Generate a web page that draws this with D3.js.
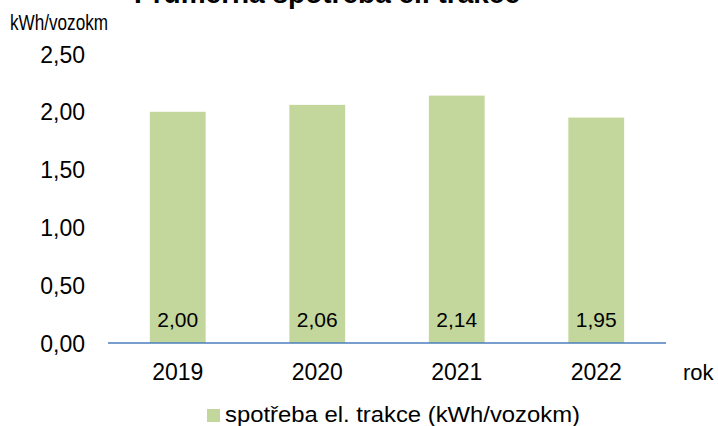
<!DOCTYPE html>
<html>
<head>
<meta charset="utf-8">
<script src="https://cdn.jsdelivr.net/npm/d3@7"></script>
<style>
  body { margin: 0; background: #fff; }
  text { font-family: "Liberation Sans", Arial, sans-serif; fill: #000; }
</style>
</head>
<body>
<div id="chart"></div>
<script>
	var years = ["2019", "2020", "2021", "2022"];
	var values = [2.00, 2.06, 2.14, 1.95];
	var yTicks = [0, 0.5, 1, 1.5, 2, 2.5];
	var seriesName = "spotřeba el. trakce (kWh/vozokm)";

	var width = 718, height = 426;
	var fmt = function(v){ return d3.format(".2f")(v).replace(".", ","); };

	var svg = d3.select("#chart").append("svg")
		.attr("width", width)
		.attr("height", height);

	var x = d3.scaleBand()
		.domain(years)
		.range([108, 666])
		.paddingInner(0.6)
		.paddingOuter(0.3);

	var y = d3.scaleLinear()
		.domain([0, 2.5])
		.range([343, 54]);

	// title (cut off at the top, like in the source picture)
	svg.append("text")
		.attr("x", 327)
		.attr("y", 3)
		.attr("text-anchor", "middle")
		.style("font-size", "28px")
		.style("font-weight", "bold")
		.text("Průměrná spotřeba el. trakce");

	svg.append("text")
		.attr("x", 10)
		.attr("y", 30)
		.attr("textLength", 98)
		.attr("lengthAdjust", "spacingAndGlyphs")
		.style("font-size", "22px")
		.text("kWh/vozokm");

	// bars
	svg.selectAll("rect.bar")
		.data(values)
		.enter()
		.append("rect")
		.attr("class", "bar")
		.attr("x", function(d, i){ return x(years[i]); })
		.attr("width", x.bandwidth())
		.attr("y", function(d){ return y(d); })
		.attr("height", function(d){ return y(0) - y(d); })
		.attr("fill", "#c3d69b");

	// value labels
	svg.selectAll("text.val")
		.data(values)
		.enter()
		.append("text")
		.attr("class", "val")
		.attr("x", function(d, i){ return x(years[i]) + x.bandwidth() / 2; })
		.attr("y", 327)
		.attr("text-anchor", "middle")
		.style("font-size", "21px")
		.text(function(d){ return fmt(d); });

	// y axis labels
	var yAxis = d3.axisLeft(y).tickValues(yTicks).tickFormat(fmt).tickSize(0).tickPadding(0);
	var gy = svg.append("g").attr("transform", "translate(85,0)").call(yAxis);
	gy.select(".domain").remove();
	gy.selectAll("text")
		.style("font-size", "23px")
		.style("font-family", "'Liberation Sans', Arial, sans-serif")
		.attr("dy", "0.35em");

	// x axis
	var xAxis = d3.axisBottom(x).tickSize(0).tickPadding(0);
	var gx = svg.append("g").attr("transform", "translate(0,343)").call(xAxis);
	gx.select(".domain").remove();
	gx.selectAll("text")
		.style("font-size", "23px")
		.style("font-family", "'Liberation Sans', Arial, sans-serif")
		.attr("dy", null)
		.attr("y", 37);

	svg.append("line")
		.attr("x1", 108).attr("x2", 666)
		.attr("y1", y(0)).attr("y2", y(0))
		.attr("stroke", "#4a7ebb")
		.attr("stroke-width", 1.5);

	svg.append("text")
		.attr("x", 683)
		.attr("y", 380)
		.style("font-size", "22px")
		.text("rok");

	// legend
	svg.append("rect")
		.attr("x", 207).attr("y", 409)
		.attr("width", 13).attr("height", 13)
		.attr("fill", "#c3d69b");

	svg.append("text")
		.attr("x", 225)
		.attr("y", 422)
		.attr("textLength", 355)
		.attr("lengthAdjust", "spacingAndGlyphs")
		.style("font-size", "22px")
		.text(seriesName);
</script>
</body>
</html>
